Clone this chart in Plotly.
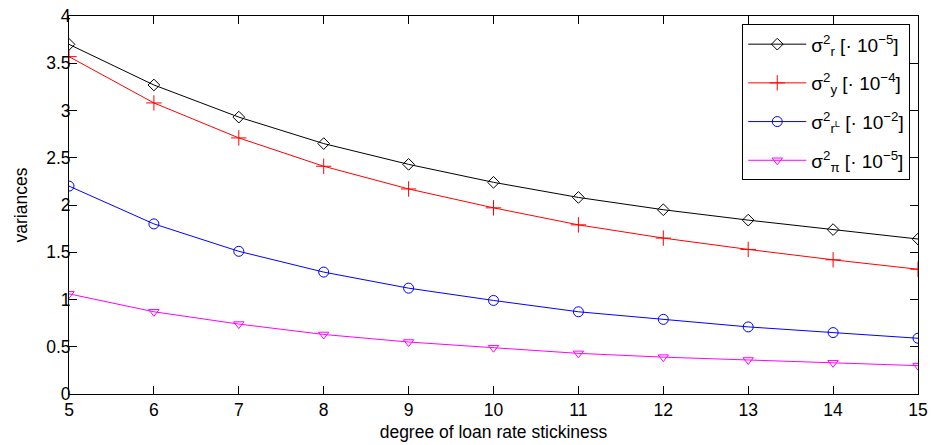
import plotly.graph_objects as go

x = [5, 6, 7, 8, 9, 10, 11, 12, 13, 14, 15]
sigma_r = [3.70, 3.27, 2.93, 2.65, 2.43, 2.24, 2.08, 1.95, 1.84, 1.74, 1.64]
sigma_y = [3.57, 3.08, 2.71, 2.41, 2.17, 1.97, 1.79, 1.65, 1.53, 1.42, 1.32]
sigma_rL = [2.20, 1.80, 1.51, 1.29, 1.12, 0.99, 0.87, 0.79, 0.71, 0.65, 0.59]
sigma_pi = [1.06, 0.87, 0.74, 0.63, 0.55, 0.49, 0.43, 0.39, 0.36, 0.33, 0.30]
y_ticks = [0, 0.5, 1, 1.5, 2, 2.5, 3, 3.5, 4]
y_ticktext = ["0", "0.5", "1", "1.5", "2", "2.5", "3", "3.5", "4"]

names = [
    "σ<sup>2</sup><sub>r</sub> [· 10<sup>−5</sup>]",
    "σ<sup>2</sup><sub>y</sub> [· 10<sup>−4</sup>]",
    "σ<sup>2</sup><sub>r<sup>L</sup></sub> [· 10<sup>−2</sup>]",
    "σ<sup>2</sup><sub>π</sub> [· 10<sup>−5</sup>]",
]
series = [sigma_r, sigma_y, sigma_rL, sigma_pi]
colors = ["#000000", "#ff0000", "#0000ff", "#ff00ff"]
symbols = ["diamond-open", "cross-thin-open", "circle-open", "triangle-down-open"]
msizes = [9, 11, 10, 9]

FONT = "Liberation Sans, Arial, Helvetica, sans-serif"

fig = go.Figure()
for i, (n, s, c, sym, ms) in enumerate(zip(names, series, colors, symbols, msizes)):
    fig.add_trace(go.Scatter(
        x=x, y=s, name=n, mode="lines+markers", legendgroup=f"g{i}",
        line=dict(color=c, width=1),
        marker=dict(symbol=sym, size=ms, color=c, line=dict(color=c, width=1)),
    ))

axis_common = dict(
    showgrid=False, zeroline=False, showline=True, linecolor="black", linewidth=1,
    mirror="ticks", ticks="inside", ticklen=8, tickcolor="black", automargin=False,
    tickfont=dict(family=FONT, size=17.5, color="black"),
)

fig.update_layout(
    template="none",
    width=932, height=445,
    margin=dict(l=69, r=14, t=16, b=51, autoexpand=False),
    paper_bgcolor="white", plot_bgcolor="white",
    font=dict(family=FONT, size=17.5, color="black"),
    xaxis=dict(range=[5, 15], tickvals=x,
               title=dict(text="degree of loan rate stickiness", standoff=6,
                          font=dict(family=FONT, size=17.5, color="black")),
               **axis_common),
    yaxis=dict(range=[0, 4], tickvals=y_ticks, ticktext=y_ticktext, ticklabelstandoff=-6,
               title=dict(text="variances", standoff=14,
                          font=dict(family=FONT, size=17.5, color="black")),
               **axis_common),
    legend=dict(
        x=0.793, y=0.978, xanchor="left", yanchor="top",
        bgcolor="white", bordercolor="black", borderwidth=1,
        font=dict(family=FONT, size=19, color="black"), itemwidth=58, tracegroupgap=11,
    ),
    showlegend=True,
)

fig.write_html("out.html", config={"displayModeBar": False},
               post_script="document.body.style.margin='0';document.body.style.overflow='hidden';")
